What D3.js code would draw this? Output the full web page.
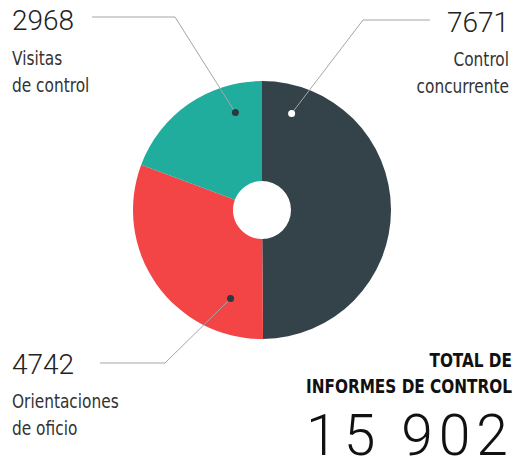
<!DOCTYPE html>
<html>
<head>
<meta charset='utf-8' />
<title>Informes de control</title>
<script src="https://d3js.org/d3.v7.min.js"></script>
<style>
body { margin: 0; padding: 0; background: #fff; }
.num { font-family: Roboto, "Liberation Sans", sans-serif; font-weight: 300; fill: #222; }
.lbl { font-family: "DejaVu Sans Condensed", "Liberation Sans", sans-serif; font-size: 19px; fill: #333; }
.tot { font-family: "DejaVu Sans Condensed", "Liberation Sans", sans-serif; font-weight: bold; font-size: 20px; fill: #111; }
</style>
</head>
<body>
<div id='chart'></div>
<script>

// data
var categories = ["Control concurrente", "Orientaciones de oficio", "Visitas de control"];
var values = [7671, 4742, 2968];
var labelLines = [["Control", "concurrente"], ["Orientaciones", "de oficio"], ["Visitas", "de control"]];
var totalTitle = ["TOTAL DE", "INFORMES DE CONTROL"];
var totalText = "15 902";

var colors = ["#34434a", "#f34546", "#21ad9d"];

var width = 515, height = 466;
var cx = 262, cy = 210, rOuter = 129, rInner = 29;

var svg = d3.select("#chart")
  .append("svg")
    .attr("width", width)
    .attr("height", height);

var g = svg.append("g")
    .attr("transform", "translate(" + cx + "," + cy + ")");

var pie = d3.pie().sort(null).value(function(d) { return d; });
var arc = d3.arc().innerRadius(rInner).outerRadius(rOuter);
var arcs = pie(values);

g.selectAll("path.slice")
  .data(arcs)
  .enter()
  .append("path")
    .attr("class", "slice")
    .attr("fill", function(d, i) { return colors[i]; })
    .attr("d", arc);

// condensed text: squeeze the font sideways
function narrowText(x, y, sx, cls, anchor, txt) {
  return svg.append("g")
    .attr("transform", "translate(" + x + "," + y + ") scale(" + sx + ",1)")
    .append("text")
      .attr("class", cls)
      .attr("text-anchor", anchor)
      .text(txt);
}

//////////
// LABELS //
//////////

// where each leader starts (fraction through the slice, radius) and where the label sits
var labelLayout = [
  {frac: 0.095, r: 101, elbow: [363, 20], end: 430, numX: 509, numY: 32, lblY: 66, anchor: "end", dot: "#fff"},
  {frac: 0.18, r: 94, elbow: [165, 363], end: 100, numX: 12, numY: 374, lblY: 408, anchor: "start", dot: "#2c3a40"},
  {frac: 0.78, r: 101, elbow: [175, 17], end: 92, numX: 12, numY: 30, lblY: 65, anchor: "start", dot: "#2c3a40"}
];

arcs.forEach(function(a, i) {
  var L = labelLayout[i];
  var ang = a.startAngle + (a.endAngle - a.startAngle) * L.frac;
  var px = cx + Math.sin(ang) * L.r;
  var py = cy - Math.cos(ang) * L.r;

  svg.append("path")
    .attr("d", d3.line()([[px, py], L.elbow, [L.end, L.elbow[1]]]))
    .attr("fill", "none")
    .attr("stroke", "#a5a5a5")
    .attr("stroke-width", 1);

  svg.append("circle")
    .attr("cx", px)
    .attr("cy", py)
    .attr("r", 3.5)
    .attr("fill", L.dot);

  svg.append("text")
    .attr("class", "num")
    .attr("x", L.numX)
    .attr("y", L.numY)
    .attr("text-anchor", L.anchor)
    .style("font-size", "28px")
    .text(d3.format("d")(a.data));

  labelLines[i].forEach(function(line, j) {
    narrowText(L.numX, L.lblY + j * 27, 0.9, "lbl", L.anchor, line);
  });
});

//////////
// TOTAL //
//////////

totalTitle.forEach(function(line, i) {
  narrowText(512, 367 + i * 26, 0.85, "tot", "end", line);
});

svg.append("text")
  .attr("class", "num")
  .attr("x", 514)
  .attr("y", 455)
  .attr("text-anchor", "end")
  .style("font-size", "57px")
  .style("letter-spacing", "6px")
  .style("fill", "#111")
  .text(totalText);

</script>
</body>
</html>
